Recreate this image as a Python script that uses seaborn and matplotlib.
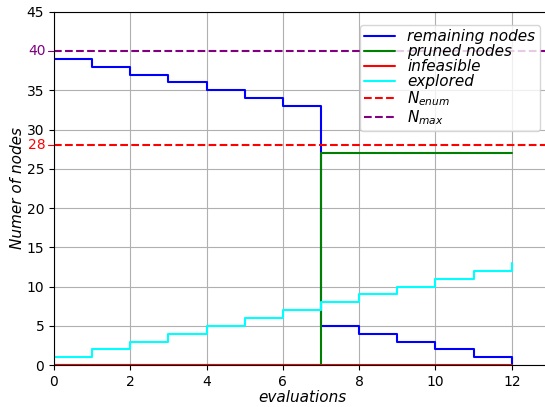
import numpy as np
import pandas as pd
import matplotlib
matplotlib.use("Agg")
import matplotlib.pyplot as plt
import seaborn as sns

evaluations = list(range(13))
remaining = [39, 38, 37, 36, 35, 34, 33, 5, 4, 3, 2, 1, 0]
pruned = [0, 0, 0, 0, 0, 0, 0, 27, 27, 27, 27, 27, 27]
infeasible = [0] * 13
explored = [1, 2, 3, 4, 5, 6, 7, 8, 9, 10, 11, 12, 13]
n_enum = 28
n_max = 40

df = pd.DataFrame({'evaluations': evaluations, 'remaining nodes': remaining,
                   'pruned nodes': pruned, 'infeasible': infeasible,
                   'explored': explored})

sns.set_style("ticks")
plt.rcParams['xtick.color'] = 'black'
plt.rcParams['ytick.color'] = 'black'
plt.rcParams['axes.edgecolor'] = 'black'
plt.rcParams['axes.labelcolor'] = 'black'
plt.rcParams['text.color'] = 'black'
fig = plt.figure(figsize=(5.45, 4.07), dpi=100)
ax = fig.add_axes([0.099, 0.103, 0.91, 0.868])

colors = {'remaining nodes': 'blue', 'pruned nodes': 'green',
          'infeasible': 'red', 'explored': 'cyan'}
for col, c in colors.items():
    sns.lineplot(data=df, x='evaluations', y=col, ax=ax, color=c,
                 drawstyle='steps-post', label=col, linewidth=1.5)

ax.axhline(n_enum, color='red', linestyle='--', linewidth=1.5, label=r'$N_{enum}$')
ax.axhline(n_max, color='purple', linestyle='--', linewidth=1.5, label=r'$N_{max}$')

ax.set_xlim(0, 13)
ax.set_ylim(0, 45)
ax.set_xticks(range(0, 13, 2))
ax.set_yticks([0, 5, 10, 15, 20, 25, 30, 35, 45])
ax.grid(True, color='#b0b0b0', linewidth=0.8)
ax.set_axisbelow(True)

# extra labels for the thresholds
ax.text(-0.016, n_max, str(n_max), color='purple', transform=ax.get_yaxis_transform(),
        ha='right', va='center', fontsize=10)
ax.text(-0.016, n_enum, str(n_enum), color='red', transform=ax.get_yaxis_transform(),
        ha='right', va='center', fontsize=10)
ax.plot([-0.012, 0], [n_max, n_max], color='purple', transform=ax.get_yaxis_transform(),
        clip_on=False, linewidth=0.8)
ax.plot([-0.012, 0], [n_enum, n_enum], color='red', transform=ax.get_yaxis_transform(),
        clip_on=False, linewidth=0.8)
ax.tick_params(labelsize=10)

ax.set_xlabel('evaluations', fontsize=11, style='italic', labelpad=1)
ax.set_ylabel('Numer of nodes', fontsize=11, style='italic', labelpad=1)
ax.legend(loc='upper right', bbox_to_anchor=(0.995, 0.985), prop={'style': 'italic', 'size': 11},
          handlelength=2.0, labelspacing=0.0, borderpad=0.3, framealpha=0.8)

fig.savefig('out.png', dpi=100)
